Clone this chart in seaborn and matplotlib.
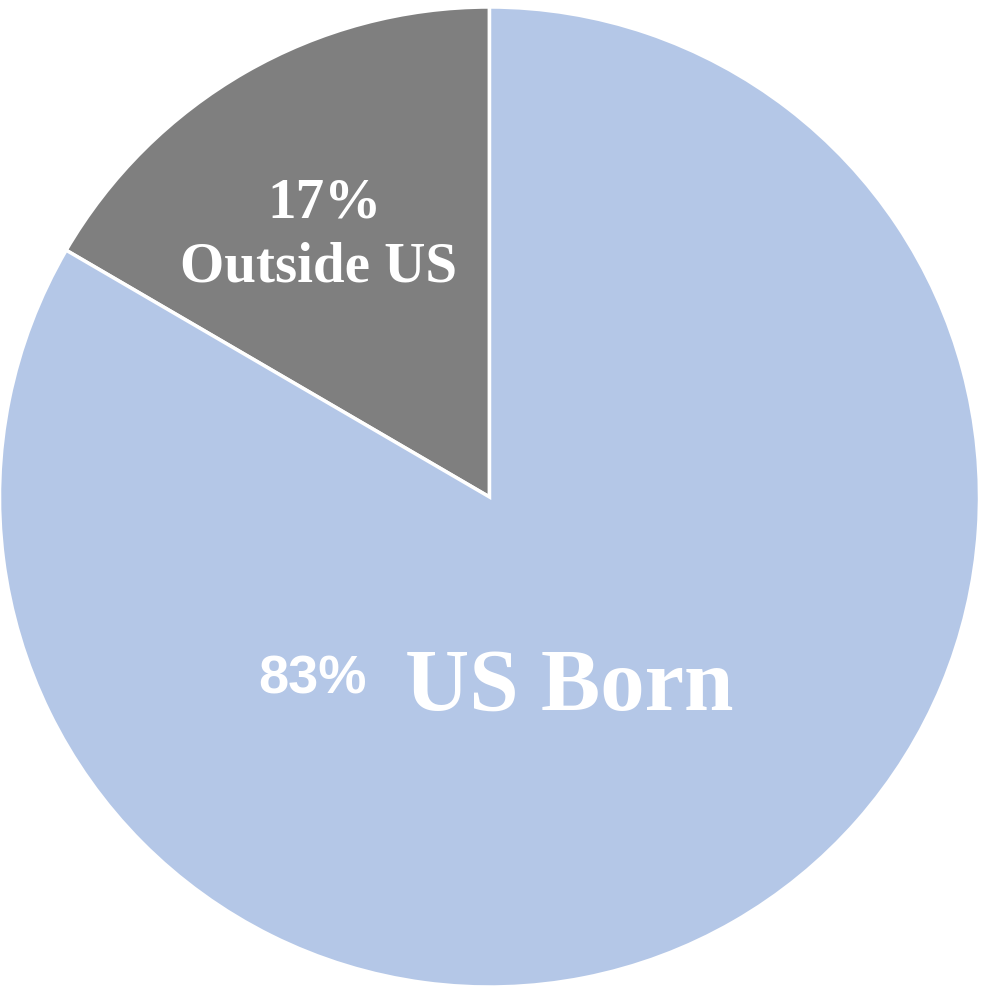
import matplotlib
matplotlib.use("Agg")
import matplotlib.pyplot as plt
import seaborn as sns

labels = ["Outside US", "US Born"]
values = [16.6, 83.4]
colors = ["#7F7F7F", "#B4C7E7"]

sns.set_theme(style="white")
plt.rcParams['font.family'] = ['DejaVu Sans']

W, H = 984, 986
fig = plt.figure(figsize=(W / 100, H / 100), dpi=100)
cx, cy, r = 489.5, 497, 490
ax = fig.add_axes([(cx - r) / W, (H - cy - r) / H, 2 * r / W, 2 * r / H])
ax.pie(values, colors=colors, startangle=90, counterclock=True,
       wedgeprops=dict(edgecolor="white", linewidth=2.5), radius=1.0)
ax.set_xlim(-1, 1)
ax.set_ylim(-1, 1)
ax.set_aspect('auto')
ax.axis('off')

def px(x, y):
    return (x - cx) / r, (cy - y) / r

serif = ['Liberation Serif', 'DejaVu Serif']
x, y = px(325, 203)
ax.text(x, y, f"{round(values[0])}%", ha='center', va='center', color='white',
        fontsize=41, fontweight='bold', family=serif)
x, y = px(319, 268)
ax.text(x, y, labels[0], ha='center', va='center', color='white',
        fontsize=41, fontweight='bold', family=serif)
x, y = px(312, 680)
ax.text(x, y, f"{round(values[1])}%", ha='center', va='center', color='white',
        fontsize=39, fontweight='bold', family=['Liberation Sans', 'DejaVu Sans'])
x, y = px(569, 688)
ax.text(x, y, labels[1], ha='center', va='center', color='white',
        fontsize=64, fontweight='bold', family=serif)

fig.savefig("out.png", dpi=100, facecolor='white')
